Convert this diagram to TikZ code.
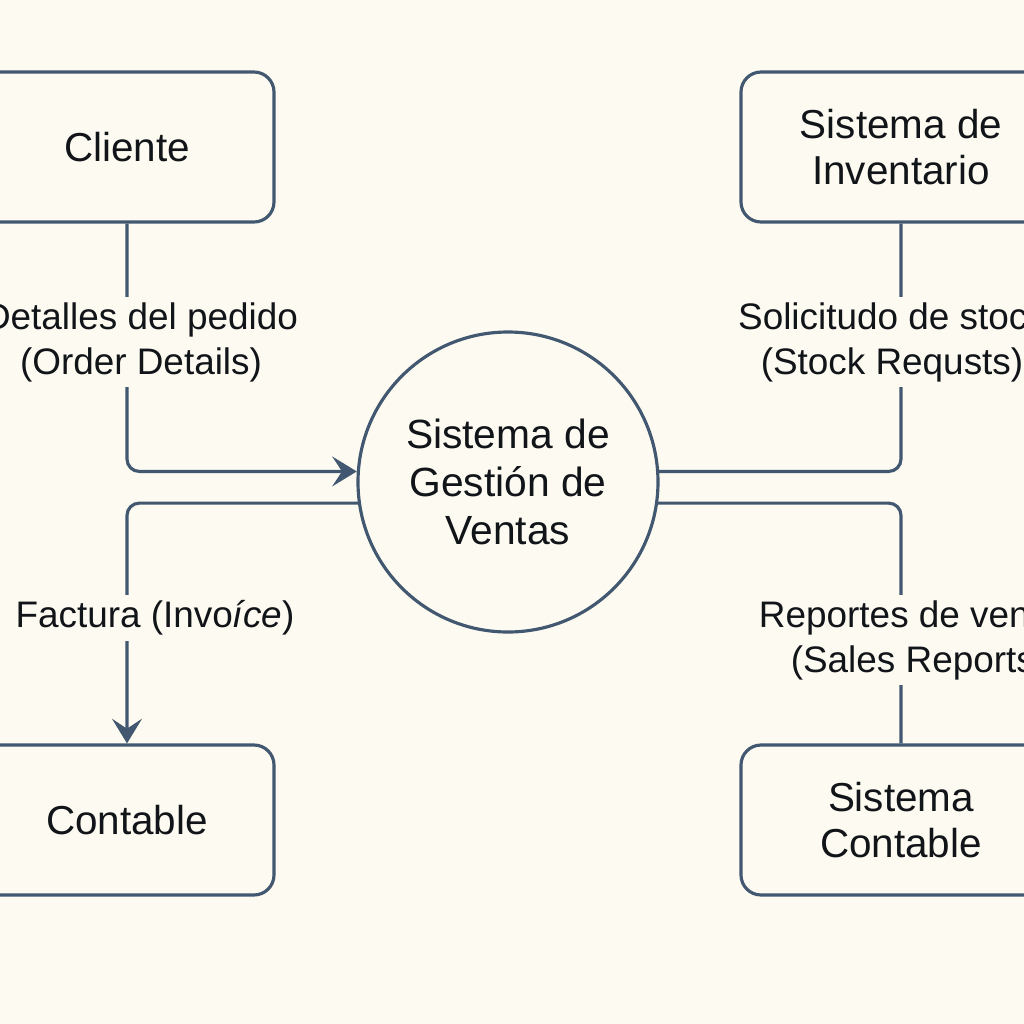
\documentclass[tikz,border=0pt]{standalone}
\usepackage{fontspec}
\setmainfont{Liberation Sans}
\usetikzlibrary{arrows.meta}

\definecolor{paper}{HTML}{FDFBF1}
\definecolor{ink}{HTML}{425770}
\definecolor{txt}{HTML}{111418}

\tikzset{
	entity/.style={draw=ink, line width=0.9pt, rounded corners=5.7pt, minimum width=2.94cm, minimum height=1.5cm, align=center, text=txt, font=\fontsize{11.5}{13.1}\selectfont},
	process/.style={circle, draw=ink, line width=0.9pt, minimum size=3cm, align=center, text=txt, font=\fontsize{11.6}{13.6}\selectfont},
	flow/.style={draw=ink, line width=0.9pt, rounded corners=3.5pt},
	flowlabel/.style={fill=paper, align=center, inner sep=1.5pt, text=txt, font=\fontsize{10.5}{12.8}\selectfont},
	tip/.style={-{Stealth[length=7pt,width=8.5pt,inset=2.8pt]}}
}

\begin{document}
\begin{tikzpicture}
	\fill[paper] (0,0) rectangle (10.24,-10.24);
	\useasboundingbox (0,0) rectangle (10.24,-10.24);
	\clip (0,0) rectangle (10.24,-10.24);
	% entities and process
	\node[entity] (cliente) at (1.27,-1.47) {Cliente};
	\node[entity] (contable) at (1.27,-8.20) {Contable};
	\node[entity, minimum width=3.2cm] (inventario) at (9.01,-1.47) {Sistema de\\Inventario};
	\node[entity, minimum width=3.2cm] (sistcontable) at (9.01,-8.20) {Sistema\\Contable};
	\node[process] (ventas) at (5.08,-4.82) {Sistema de\\Gestión de\\Ventas};
	% flows
	\draw[flow, tip] (cliente.south) |- (ventas.176);
	\draw[flow, tip] (ventas.188) -| (contable.north);
	\draw[flow] (inventario.south) |- (ventas.4);
	\draw[flow] (ventas.352) -| (sistcontable.north);
	% flow labels
	\node[flowlabel] (pedido) at (1.41,-3.42) {Detalles del pedido\\(Order Details)};
	\node[flowlabel] (factura) at (1.55,-6.18) {Factura (Invo\textit{íce})};
	\node[flowlabel] (stock) at (8.92,-3.42) {Solicitudo de stock\\(Stock Requsts)};
	\node[flowlabel] (reportes) at (9.19,-6.40) {Reportes de ventas\\(Sales Reports)};
\end{tikzpicture}
\end{document}
